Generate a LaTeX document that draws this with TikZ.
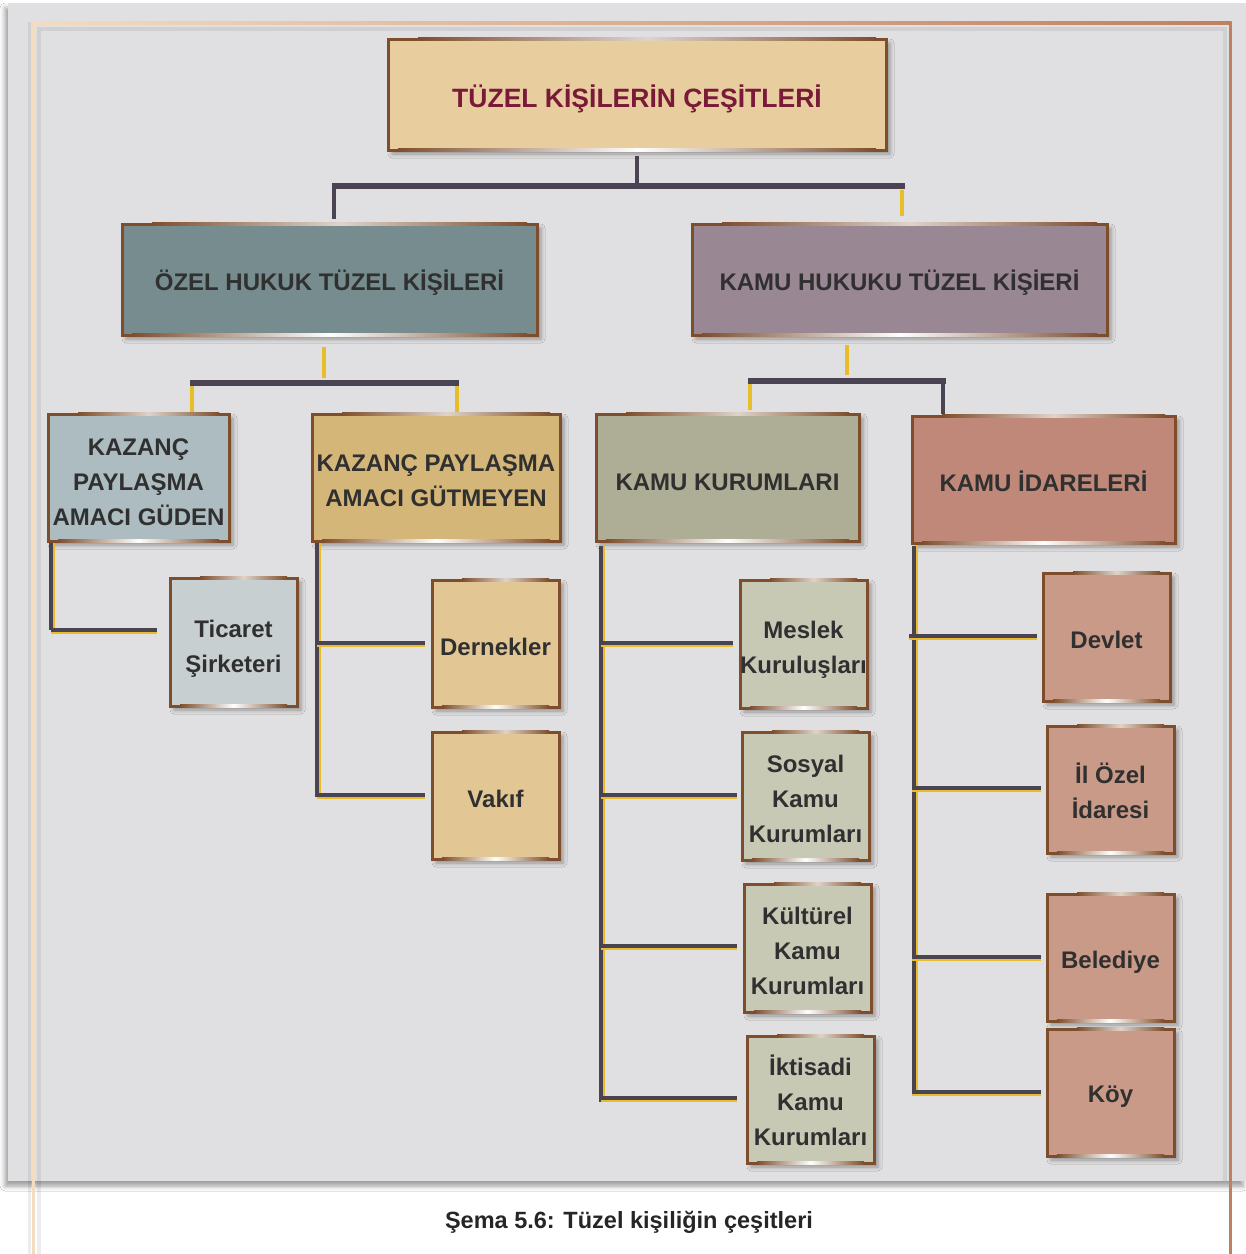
\documentclass[tikz,border=0pt]{standalone}
\usepackage{fontspec}
\setmainfont{Liberation Sans}
\usetikzlibrary{shadows.blur}
\definecolor{panel}{HTML}{E0E0E2}
\definecolor{dk}{HTML}{4A4452}
\definecolor{yl}{HTML}{E8BD2A}
\definecolor{brd}{HTML}{7E4E2C}
\definecolor{ttlfill}{HTML}{E8CD9F}
\definecolor{ttltext}{HTML}{7A1A38}
\definecolor{ozel}{HTML}{778C8E}
\definecolor{kamuh}{HTML}{9A8794}
\definecolor{guden}{HTML}{ACBCC0}
\definecolor{gutmeyen}{HTML}{D5B679}
\definecolor{kamuk}{HTML}{AEAE96}
\definecolor{idare}{HTML}{C08878}
\definecolor{ticaret}{HTML}{C8CFD1}
\definecolor{dernek}{HTML}{E2C795}
\definecolor{meslek}{HTML}{C8C9B5}
\definecolor{devlet}{HTML}{C99A88}
\definecolor{txt}{HTML}{303030}
\definecolor{frbeige}{HTML}{F2DCC2}
\definecolor{frbrown}{HTML}{C08060}
\tikzset{
  box/.style={draw=brd, line width=3pt, inner sep=0pt, outer sep=0pt, align=center, text=txt,
    execute at begin node={\rule{0pt}{24pt}},
    blur shadow={shadow xshift=4pt, shadow yshift=-4pt, shadow blur radius=4pt, shadow opacity=35}},
  sh/.style={execute at begin node={\rule{0pt}{#1}}},
  hdfont/.style={font=\fontsize{24}{35}\selectfont\bfseries},
  chfont/.style={font=\fontsize{24}{35}\selectfont\bfseries},
  dkl/.style={draw=dk, line width=3.5pt},
  yll/.style={draw=yl, line width=2.5pt},
}
\newcommand{\st}[1]{\rule{0pt}{#1}}
\newcommand{\vconn}[2]{\draw[dkl] (#1) -- (#2); \draw[yll] ([xshift=3pt]#1) -- ([xshift=3pt]#2);}
\newcommand{\hconn}[2]{\draw[dkl] (#1) -- (#2); \draw[yll] ([yshift=-3pt]#1) -- ([yshift=-3pt]#2);}
\newcommand{\hlt}[1]{%
  \shade[left color=brd, right color=brd, middle color=white]
    ([xshift=10pt,yshift=-1.5pt]#1.south west) rectangle ([xshift=-10pt,yshift=1.5pt]#1.south east);
  \shade[left color=brd, right color=brd, middle color=white!75!brd]
    ([xshift=30pt,yshift=-1.5pt]#1.north west) rectangle ([xshift=-10pt,yshift=1.5pt]#1.north east);}
\begin{document}
\begin{tikzpicture}[x=1pt,y=-1pt]
\useasboundingbox (0,0) rectangle (1246,1254);
\fill[white] (0,0) rectangle (1246,1254);
% panel
\path[fill=panel, blur shadow={shadow xshift=-3pt, shadow yshift=-5pt, shadow blur radius=5pt, shadow opacity=40}] (8,3) rectangle (1246,1181);
% frame
\draw[black, opacity=0.07, line width=4pt] (38.5,1254) -- (38.5,28.5) -- (1225,28.5) -- (1225,1181);
\draw[black, opacity=0.07, line width=3pt] (29.5,1254) -- (29.5,22);
\shade[left color=frbeige, right color=frbrown] (32,21.5) rectangle (1231.5,24.5);
\fill[frbeige] (32,22) rectangle (35,1254);
\fill[frbrown] (1228.5,22) rectangle (1231.5,1254);

% level 0
\node[box, sh=32pt, fill=ttlfill, minimum width=498pt, minimum height=111pt, text=ttltext,
  font=\fontsize{26.5}{30}\selectfont\bfseries] (title) at (637,94.5) {TÜZEL KİŞİLERİN ÇEŞİTLERİ};
% level 1
\node[box, sh=27pt, fill=ozel, minimum width=415pt, minimum height=111pt, hdfont] (ozel) at (329.5,279.5) {ÖZEL HUKUK TÜZEL KİŞİLERİ};
\node[box, sh=27pt, fill=kamuh, minimum width=415pt, minimum height=111pt, hdfont] (kamuh) at (899.5,279.5) {KAMU HUKUKU TÜZEL KİŞİERİ};
% level 2
\node[box, fill=guden, minimum width=181pt, minimum height=127pt, hdfont] (guden) at (138.5,477.5) {\st{26pt}KAZANÇ\\PAYLAŞMA\\AMACI GÜDEN};
\node[box, fill=gutmeyen, minimum width=248pt, minimum height=127pt, hdfont] (gutmeyen) at (436,477.5) {\st{23pt}KAZANÇ PAYLAŞMA\\AMACI GÜTMEYEN};
\node[box, sh=26pt, fill=kamuk, minimum width=263pt, minimum height=127pt, hdfont] (kamuk) at (727.5,477.5) {KAMU KURUMLARI};
\node[box, fill=idare, minimum width=263pt, minimum height=127pt, hdfont] (idare) at (1043.5,479.5) {KAMU İDARELERİ};
% level 3
\node[box, fill=ticaret, minimum width=127pt, minimum height=128pt, chfont] (ticaret) at (233.5,642) {\st{30pt}Ticaret\\Şirketeri};
\node[box, fill=dernek, minimum width=127pt, minimum height=127pt, chfont] (dernek) at (495.5,643.5) {Dernekler};
\node[box, fill=dernek, minimum width=127pt, minimum height=127pt, chfont] (vakif) at (495.5,795.5) {Vakıf};
\node[box, fill=meslek, minimum width=127pt, minimum height=128pt, chfont] (meslek) at (803.5,644) {\st{28pt}Meslek\\Kuruluşları};
\node[box, fill=meslek, minimum width=127pt, minimum height=128pt, chfont] (sosyal) at (805.5,796) {\st{24pt}Sosyal\\Kamu\\Kurumları};
\node[box, fill=meslek, minimum width=127pt, minimum height=128pt, chfont] (kultur) at (807.5,948) {\st{24pt}Kültürel\\Kamu\\Kurumları};
\node[box, fill=meslek, minimum width=127pt, minimum height=127pt, chfont] (iktisadi) at (810.5,1099.5) {\st{23pt}İktisadi\\Kamu\\Kurumları};
\node[box, fill=devlet, minimum width=127pt, minimum height=128pt, chfont] (devlet) at (1106.5,637) {Devlet};
\node[box, fill=devlet, minimum width=127pt, minimum height=127pt, chfont] (ilozel) at (1110.5,789.5) {\st{24pt}İl Özel\\İdaresi};
\node[box, sh=26pt, fill=devlet, minimum width=127pt, minimum height=127pt, chfont] (belediye) at (1110.5,957.5) {Belediye};
\node[box, fill=devlet, minimum width=127pt, minimum height=127pt, chfont] (koy) at (1110.5,1092.5) {Köy};

\foreach \n in {title,ozel,kamuh,guden,gutmeyen,kamuk,idare,ticaret,dernek,vakif,meslek,sosyal,kultur,iktisadi,devlet,ilozel,belediye,koy}{\hlt{\n}}

% top connectors
\coordinate (jt) at (637,183);
\coordinate (jtl) at (332,186);
\coordinate (jtr) at (905,186);
\coordinate (dl1) at (334,184);
\coordinate (dl2) at (334,219);
\coordinate (dr1) at (902,190);
\coordinate (dr2) at (902,216);
\draw[draw=dk, line width=4.5pt] ([yshift=-6pt]title.south) -- (jt);
\draw[draw=dk, line width=6pt] (jtl) -- (jtr);
\draw[draw=dk, line width=4.5pt] (dl1) -- (dl2);
\draw[draw=yl, line width=4.5pt] (dr1) -- (dr2);

% ozel connectors
\coordinate (os) at (324,378);
\coordinate (ol) at (190,383);
\coordinate (or) at (459,383);
\coordinate (od1a) at (192,386);
\coordinate (od1b) at (192,412);
\coordinate (od2a) at (457,386);
\coordinate (od2b) at (457,412);
\draw[draw=yl, line width=4.5pt] ([yshift=-12pt,xshift=-5.5pt]ozel.south) -- (os);
\draw[draw=dk, line width=5.5pt] (ol) -- (or);
\draw[draw=yl, line width=4.5pt] (od1a) -- (od1b);
\draw[draw=yl, line width=4.5pt] (od2a) -- (od2b);

% kamu hukuku connectors
\coordinate (ks) at (847,375);
\coordinate (kl) at (748,381);
\coordinate (kr) at (946,381);
\coordinate (kd1a) at (750,384);
\coordinate (kd1b) at (750,410);
\coordinate (kd2a) at (943,379);
\coordinate (kd2b) at (943,414);
\draw[draw=yl, line width=4.5pt] ([yshift=-10pt,xshift=-52.5pt]kamuh.south) -- (ks);
\draw[draw=dk, line width=5.5pt] (kl) -- (kr);
\draw[draw=yl, line width=4.5pt] (kd1a) -- (kd1b);
\draw[draw=dk, line width=4.5pt] (kd2a) -- (kd2b);

% guden -> ticaret
\coordinate (g1) at (51,543);
\coordinate (g2) at (51,630);
\coordinate (g3) at (157,630);
\vconn{g1}{g2}
\hconn{g2}{g3}

% gutmeyen
\coordinate (u1) at (317,543);
\coordinate (u2) at (317,797);
\coordinate (u3) at (317,643);
\coordinate (u4) at (425,643);
\coordinate (u5) at (317,795);
\coordinate (u6) at (425,795);
\vconn{u1}{u2}
\hconn{u3}{u4}
\hconn{u5}{u6}

% kamu kurumlari
\coordinate (k1) at (601,546);
\coordinate (k2) at (601,1102);
\coordinate (k3) at (601,643);   \coordinate (k4) at (733,643);
\coordinate (k5) at (601,795);   \coordinate (k6) at (737,795);
\coordinate (k7) at (601,946);   \coordinate (k8) at (737,946);
\coordinate (k9) at (601,1098);  \coordinate (k10) at (737,1098);
\vconn{k1}{k2}
\hconn{k3}{k4}
\hconn{k5}{k6}
\hconn{k7}{k8}
\hconn{k9}{k10}

% kamu idareleri
\coordinate (i1) at (914,546);
\coordinate (i2) at (914,1095);
\coordinate (i3) at (909,636);  \coordinate (i4) at (1037,636);
\coordinate (i5) at (912,788);  \coordinate (i6) at (1041,788);
\coordinate (i7) at (912,957);  \coordinate (i8) at (1041,957);
\coordinate (i9) at (912,1092); \coordinate (i10) at (1041,1092);
\vconn{i1}{i2}
\hconn{i3}{i4}
\hconn{i5}{i6}
\hconn{i7}{i8}
\hconn{i9}{i10}

% caption
\node[font=\fontsize{23.5}{28}\selectfont\bfseries, text=black!85] (cap) at (629,1222) {Şema 5.6: Tüzel kişiliğin çeşitleri};
\end{tikzpicture}
\end{document}
